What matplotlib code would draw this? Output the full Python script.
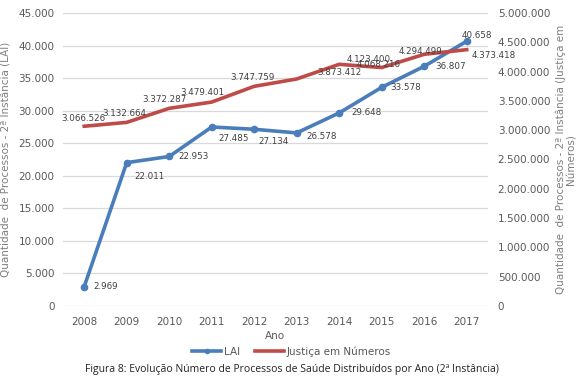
import numpy as np
import matplotlib
matplotlib.use('Agg')
import matplotlib.pyplot as plt
from matplotlib.ticker import FuncFormatter
from matplotlib.lines import Line2D

years = ['2008', '2009', '2010', '2011', '2012', '2013', '2014', '2015', '2016', '2017']
lai = [2969, 22011, 22953, 27485, 27134, 26578, 29648, 33578, 36807, 40658]
justica = [3066526, 3132664, 3372287, 3479401, 3747759, 3873412, 4123400, 4068216, 4294499, 4373418]

# label offsets in pixels (dx, dy)
lai_off = [(9, 0), (8, -14), (9, 0), (7, -12), (4, -12), (10, -4), (12, 0), (9, 0), (11, 0), (-5, 6)]
jus_off = [(-1, 8), (-2, 9), (-5, 9), (-9, 10), (-2, 9), (21, 6), (7, 5), (-3, 3), (-4, 3), (5, -6)]

blue = '#4A7EBB'
red = '#BE4B48'
grey = '#595959'

def br(v, pos=None):
    return f'{int(round(v)):,}'.replace(',', '.')

fig = plt.figure(figsize=(5.83, 3.81), dpi=100)
ax = fig.add_axes([0.108, 0.197, 0.729, 0.769])
ax2 = ax.twinx()
x = np.arange(len(years))

ax.plot(x, lai, color=blue, lw=2.6, marker='o', ms=4.5, zorder=3)
ax2.plot(x, justica, color=red, lw=2.6, zorder=3)

for xi, v, (dx, dy) in zip(x, lai, lai_off):
    ax.annotate(br(v), (xi, v), xytext=(dx, dy), textcoords='offset pixels',
                fontsize=6.3, color='#404040', ha='left', va='center')
for xi, v, (dx, dy) in zip(x, justica, jus_off):
    ax2.annotate(br(v), (xi, v), xytext=(dx, dy), textcoords='offset pixels',
                 fontsize=6.3, color='#404040', ha='left' if dx > 3 else 'center', va='center')

ax.set_xlim(-0.5, 9.5)
ax.set_ylim(0, 45000)
ax.set_yticks(np.arange(0, 45001, 5000))
ax2.set_ylim(0, 5000000)
ax2.set_yticks(np.arange(0, 5000001, 500000))
ax.yaxis.set_major_formatter(FuncFormatter(br))
ax2.yaxis.set_major_formatter(FuncFormatter(br))
ax.set_xticks(x)
ax.set_xticklabels(years)

for a in (ax, ax2):
    for s in a.spines.values():
        s.set_visible(False)
    a.tick_params(length=0, labelsize=7.5, colors=grey)
ax.tick_params(axis='y', pad=6)
ax2.tick_params(axis='y', pad=7)
ax.tick_params(axis='x', pad=8)
ax.grid(axis='y', color='#D9D9D9', lw=0.9)
ax.set_axisbelow(True)

ax.set_ylabel('Quantidade  de Processos - 2ª Instância (LAI)', fontsize=7.5, color='#7F7F7F', labelpad=5)
ax2.set_ylabel('Quantidade  de Processos - 2ª Instância (Justiça em\nNúmeros)', fontsize=7.5,
               color='#7F7F7F', rotation=90, labelpad=4, linespacing=1.0)
ax.set_xlabel('Ano', fontsize=7.5, color=grey, labelpad=3)

handles = [Line2D([0], [0], color=blue, lw=2.6, marker='o', ms=3, label='LAI'),
           Line2D([0], [0], color=red, lw=2.6, label='Justiça em Números')]
fig.legend(handles=handles, loc='center', bbox_to_anchor=(0.5, 0.077), ncol=2, frameon=False,
           fontsize=7.5, labelcolor=grey, handlelength=2.8, handletextpad=0.2, columnspacing=1.5)

fig.text(0.5, 0.03, 'Figura 8: Evolução Número de Processos de Saúde Distribuídos por Ano (2ª Instância)',
         ha='center', va='center', fontsize=7.5, family='Open Sans', color='#222222')

fig.savefig('out.png', dpi=100)
